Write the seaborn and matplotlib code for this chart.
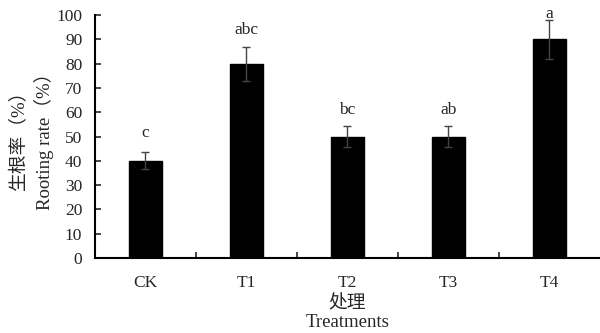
import matplotlib
matplotlib.use("Agg")
import matplotlib.pyplot as plt
import seaborn as sns
import pandas as pd

categories = ["CK", "T1", "T2", "T3", "T4"]
rooting_rate = [40, 80, 50, 50, 90]
errors = [3.5, 7, 4.5, 4.5, 8]
letters = ["c", "abc", "bc", "ab", "a"]
letter_y = [51.5, 94, 61, 61, 100.5]

sns.set_style("white")
plt.rcParams['font.family'] = ['Liberation Serif', 'Noto Sans CJK SC', 'DejaVu Sans']

df = pd.DataFrame({"cat": categories, "val": rooting_rate})

fig = plt.figure(figsize=(6, 3.33), dpi=100)
ax = fig.add_axes([0.158, 0.225, 0.842, 0.73])

sns.barplot(data=df, x="cat", y="val", color="black", width=0.33,
            errorbar=None, ax=ax, edgecolor="black", saturation=1)
ax.errorbar(range(len(categories)), rooting_rate, yerr=errors, fmt="none",
            ecolor="#444444", elinewidth=1, capsize=3, capthick=1)
for i, (t, y) in enumerate(zip(letters, letter_y)):
    ax.text(i, y, t, ha="center", va="center", fontsize=12.5)

ax.set_xlim(-0.5, 4.5)
ax.set_ylim(0, 100)
ax.set_yticks(range(0, 101, 10))
ax.set_xticks([0.5, 1.5, 2.5, 3.5], minor=False)
ax.set_xticklabels([])
ax.set_xticks(range(len(categories)), minor=True)
ax.set_xticklabels(categories, minor=True)
ax.tick_params(axis="x", which="major", direction="in", length=4, width=1.2, bottom=True)
ax.tick_params(axis="x", which="minor", length=0, pad=12, labelsize=12.5)
ax.tick_params(axis="y", direction="in", length=4, width=1.2, left=True, labelsize=12.5, pad=9)

for s in ["top", "right"]:
    ax.spines[s].set_visible(False)
for s in ["left", "bottom"]:
    ax.spines[s].set_color("black")
    ax.spines[s].set_linewidth(1.5)

ax.set_ylabel("生根率（%）\nRooting rate（%）", fontsize=13.5, linespacing=1.3, labelpad=2)
ax.set_xlabel("处理\nTreatments", fontsize=13.5, linespacing=1.15, labelpad=3)

fig.savefig("out.png", dpi=100)
